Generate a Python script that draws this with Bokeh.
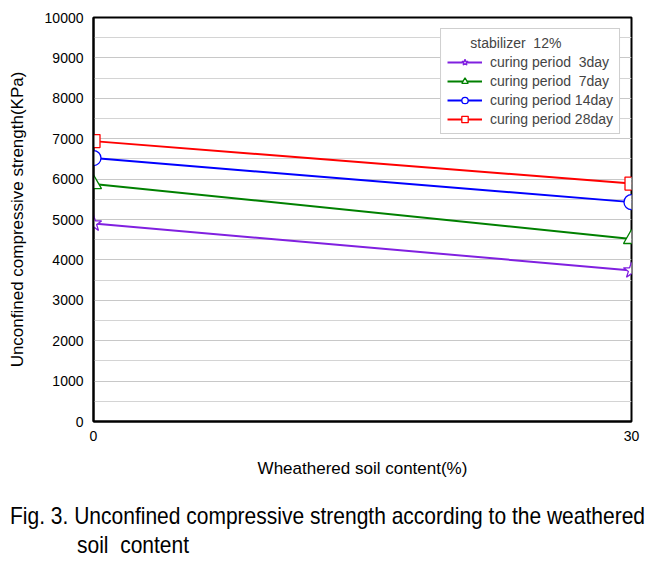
from bokeh.plotting import figure
from bokeh.models import Range1d, FixedTicker, Legend, LegendItem, Div
from bokeh.layouts import column
from bokeh.embed import file_html
from bokeh.resources import INLINE

# data
soil_content = [0, 30]
day3 = [4900, 3740]
day7 = [5880, 4520]
day14 = [6520, 5430]
day28 = [6940, 5890]
series_labels = ["curing period  3day", "curing period  7day", "curing period 14day", "curing period 28day"]
legend_title = "      stabilizer  12%"
y_ticks = [0, 1000, 2000, 3000, 4000, 5000, 6000, 7000, 8000, 9000, 10000]
x_ticks = [0, 30]
caption_1 = "Fig. 3. Unconfined compressive strength according to the weathered"
caption_2 = "soil&nbsp;&nbsp;content"

FONT = "Liberation Sans"
CAP_FONT = "'Liberation Sans', sans-serif"

p = figure(width=661, height=490, output_backend="svg", toolbar_location=None,
           x_range=Range1d(0, 30), y_range=Range1d(0, 10000),
           min_border_left=93, min_border_right=30, min_border_top=17, min_border_bottom=69)
p.outline_line_color = "black"
p.outline_line_width = 2
p.background_fill_color = "white"
p.border_fill_color = "white"

p.xgrid.visible = False
p.yaxis.ticker = FixedTicker(ticks=y_ticks, minor_ticks=[v + 500 for v in y_ticks[:-1]])
p.xaxis.ticker = FixedTicker(ticks=x_ticks)
p.ygrid.grid_line_color = "#c8c8c8"
p.ygrid.minor_grid_line_color = "#d4d4d4"

for ax in (p.xaxis[0], p.yaxis[0]):
    ax.axis_line_color = "black"
    ax.axis_line_width = 2
    ax.major_tick_line_color = None
    ax.minor_tick_line_color = None
    ax.major_tick_out = 0
    ax.major_tick_in = 0
    ax.minor_tick_out = 0
    ax.minor_tick_in = 0
    ax.major_label_text_font = FONT
    ax.major_label_text_font_size = "14px"
    ax.major_label_text_color = "black"
    ax.axis_label_text_font = FONT
    ax.axis_label_text_font_style = "normal"
    ax.axis_label_text_font_size = "17px"
    ax.axis_label_text_color = "black"

p.yaxis.axis_label = "Unconfined compressive strength(KPa)"
p.xaxis.axis_label = "Wheathered soil content(%)"
p.yaxis.major_label_standoff = 10
p.xaxis.major_label_standoff = 9
p.yaxis.axis_label_standoff = 15
p.xaxis.axis_label_standoff = 15

colors = ["#8020e0", "#008000", "#0000ff", "#ff0000"]
markers = ["star", "triangle", "circle", "square"]
sizes = [17, 16, 15, 13]
series = [day3, day7, day14, day28]

items = []
for vals, c, m, s, lab in zip(series, colors, markers, sizes, series_labels):
    l = p.line(soil_content, vals, line_color=c, line_width=2)
    r = p.scatter(soil_content, vals, marker=m, size=s, line_color=c, fill_color="white", line_width=1.3)
    items.append(LegendItem(label=lab, renderers=[l, r]))

legend = Legend(items=items, location="top_right", margin=11,
                title=legend_title, title_text_font=FONT, title_text_font_size="14px",
                title_text_font_style="normal", title_standoff=3,
                label_text_font=FONT, label_text_font_size="14px",
                glyph_width=35, glyph_height=16, label_height=16, spacing=3,
                padding=6, label_standoff=8,
                border_line_color="#a0a0a0", border_line_width=1,
                background_fill_color="white", background_fill_alpha=1.0)
p.add_layout(legend)

span_style = ("display:inline-block;width:560px;white-space:nowrap;"
              "transform:scaleX(0.875);transform-origin:0 0")
cap_html = (
    f'<div style="padding-left:10px"><span style="{span_style}">{caption_1}</span></div>'
    f'<div style="padding-left:77px"><span style="{span_style}">{caption_2}</span></div>'
)
cap = Div(text=cap_html, width=661, height=74, margin=0,
          styles={"font-family": CAP_FONT, "font-size": "24px", "line-height": "29px",
                  "color": "black", "padding-top": "11px", "box-sizing": "border-box",
                  "overflow": "hidden"})

layout = column(p, cap, spacing=0)
open("out.html", "w").write(file_html(layout, INLINE))
